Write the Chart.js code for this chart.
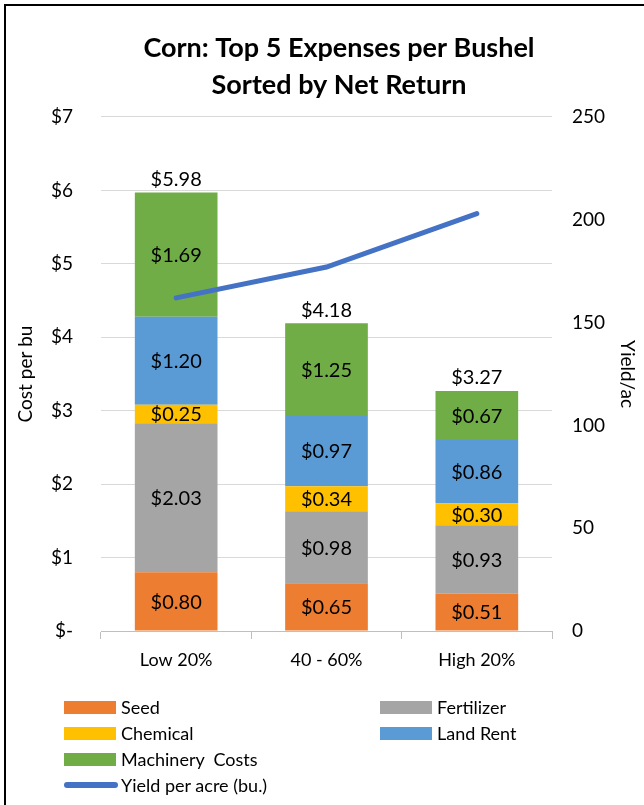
<!DOCTYPE html>
<html>
<head>
<meta charset="utf-8">
<script src="https://cdn.jsdelivr.net/npm/chart.js@4/dist/chart.umd.min.js"></script>
<style>
  body { margin: 0; background: #fff; font-family: Lato, "Open Sans", sans-serif; }
  #wrap { position: relative; width: 644px; height: 805px; overflow: hidden; }
  #frame { position: absolute; left: 4px; top: 4px; width: 700px; height: 900px;
           border-top: 2px solid #000; border-left: 2px solid #000; }
  canvas { position: absolute; left: 0; top: 0; }
  #legend { position: absolute; left: 0; top: 0; width: 644px; height: 805px; pointer-events: none; }
  .item { position: absolute; font-size: 18px; color: #000; line-height: 20px; white-space: pre; }
  .sw { position: absolute; }
</style>
</head>
<body>
<div id="wrap">
  <div id="frame"></div>
  <canvas id="chart" width="644" height="805"></canvas>
  <div id="legend"></div>
</div>
<script>
// Categorías y valores ($/bu)
const groups = ['Low 20%', '40 - 60%', 'High 20%'];
const seed = [0.80, 0.65, 0.51];
const fertilizer = [2.03, 0.98, 0.93];
const chemical = [0.25, 0.34, 0.30];
const landRent = [1.20, 0.97, 0.86];
const machinery = [1.69, 1.25, 0.67];
const totals = [5.98, 4.18, 3.27];
// Rendimiento (bu/ac)
const yieldPerAcre = [162, 177, 203];

const FONT = 'Lato, "Open Sans", sans-serif';

function money(v) {
  return '$' + v.toFixed(2);
}

// Etiquetas de valores dentro de las barras y totales arriba
const labelPlugin = {
  id: 'labels',
  afterDatasetsDraw(chart) {
    const ctx = chart.ctx;
    ctx.save();
    ctx.font = '20px ' + FONT;
    ctx.fillStyle = '#000';
    ctx.textAlign = 'center';
    ctx.textBaseline = 'middle';
    chart.data.datasets.forEach((ds, i) => {
      if (ds.type === 'line') return;
      const meta = chart.getDatasetMeta(i);
      meta.data.forEach((bar, j) => {
        const mid = (bar.y + bar.base) / 2;
        ctx.fillText(money(ds.data[j]), bar.x, mid + 1);
      });
    });
    // totales
    const yScale = chart.scales.y;
    const barMeta = chart.getDatasetMeta(0);
    ctx.textBaseline = 'bottom';
    totals.forEach((t, j) => {
      const sum = seed[j] + fertilizer[j] + chemical[j] + landRent[j] + machinery[j];
      ctx.fillText(money(t), barMeta.data[j].x, yScale.getPixelForValue(sum) - 3);
    });
    ctx.restore();
  }
};

const colors = {
  seed: '#ED7D31',
  fertilizer: '#A5A5A5',
  chemical: '#FFC000',
  landRent: '#5B9BD5',
  machinery: '#70AD47',
  yield: '#4472C4'
};

const barDs = (label, data, color) => ({
  type: 'bar', label: label, data: data, backgroundColor: color,
  borderWidth: 0, yAxisID: 'y', stack: 's', order: 2,
  barPercentage: 0.55, categoryPercentage: 1
});

const ctx = document.getElementById('chart').getContext('2d');
const chart = new Chart(ctx, {
  data: {
    labels: groups,
    datasets: [
      barDs('Seed', seed, colors.seed),
      barDs('Fertilizer', fertilizer, colors.fertilizer),
      barDs('Chemical', chemical, colors.chemical),
      barDs('Land Rent', landRent, colors.landRent),
      barDs('Machinery  Costs', machinery, colors.machinery),
      {
        type: 'line', label: 'Yield per acre (bu.)', data: yieldPerAcre,
        borderColor: colors.yield, borderWidth: 5, pointRadius: 0,
        borderCapStyle: 'round', yAxisID: 'y1', order: 0, tension: 0
      }
    ]
  },
  options: {
    responsive: false,
    animation: false,
    layout: { padding: { left: 34, right: 0, top: 20, bottom: 124 } },
    plugins: {
      legend: { display: false },
      tooltip: { enabled: false },
      title: {
        display: true,
        text: ['Corn: Top 5 Expenses per Bushel', 'Sorted by Net Return'],
        color: '#000',
        font: { family: FONT, size: 27, weight: 'bold', lineHeight: 1.37 },
        padding: { top: 10, bottom: 13 }
      }
    },
    scales: {
      x: {
        stacked: true,
        grid: { display: true, drawOnChartArea: false, drawTicks: true, tickLength: 8, color: '#BFBFBF', offset: true },
        border: { display: true, color: '#BFBFBF' },
        ticks: { color: '#000', font: { family: FONT, size: 18 }, padding: 10 },
        afterFit(s) { s.height = 50; }
      },
      y: {
        stacked: true,
        position: 'left',
        min: 0, max: 7,
        grid: { color: '#D9D9D9', drawTicks: false },
        border: { display: false },
        ticks: {
          stepSize: 1, padding: 28, color: '#000',
          font: { family: FONT, size: 19 },
          callback: v => v === 0 ? '$-' : '$' + v
        },
        title: {
          display: true, text: 'Cost per bu', color: '#000',
          font: { family: FONT, size: 19 },
          padding: { top: -20, bottom: 0 }
        },
        afterFit(s) { s.width = 67; }
      },
      y1: {
        position: 'right',
        min: 0, max: 250,
        grid: { display: false, drawTicks: false },
        border: { display: false },
        ticks: { stepSize: 50, padding: 20, color: '#000', font: { family: FONT, size: 19 } },
        title: {
          display: true, text: 'Yield/ac', color: '#000',
          font: { family: FONT, size: 19 },
          padding: { top: 5, bottom: 0 }
        },
        afterFit(s) { s.width = 92; }
      }
    }
  },
  plugins: [labelPlugin]
});

// Leyenda en HTML (dos columnas como el original)
const legendItems = [
  { ds: 0, x: 64, row: 0 },
  { ds: 1, x: 380, row: 0 },
  { ds: 2, x: 64, row: 1 },
  { ds: 3, x: 380, row: 1 },
  { ds: 4, x: 64, row: 2 },
  { ds: 5, x: 64, row: 3 }
];
const legend = document.getElementById('legend');
legendItems.forEach(it => {
  const ds = chart.data.datasets[it.ds];
  const cy = 707 + it.row * 26;
  const sw = document.createElement('div');
  sw.className = 'sw';
  if (ds.type === 'line') {
    sw.style.cssText = `left:${it.x}px;top:${cy - 3}px;width:54px;height:6px;border-radius:3px;background:${ds.borderColor}`;
  } else {
    sw.style.cssText = `left:${it.x}px;top:${cy - 6}px;width:52px;height:13px;background:${ds.backgroundColor}`;
  }
  legend.appendChild(sw);
  const tx = document.createElement('div');
  tx.className = 'item';
  tx.style.left = (it.x + 57) + 'px';
  tx.style.top = (cy - 10) + 'px';
  tx.textContent = ds.label;
  legend.appendChild(tx);
});
</script>
</body>
</html>
